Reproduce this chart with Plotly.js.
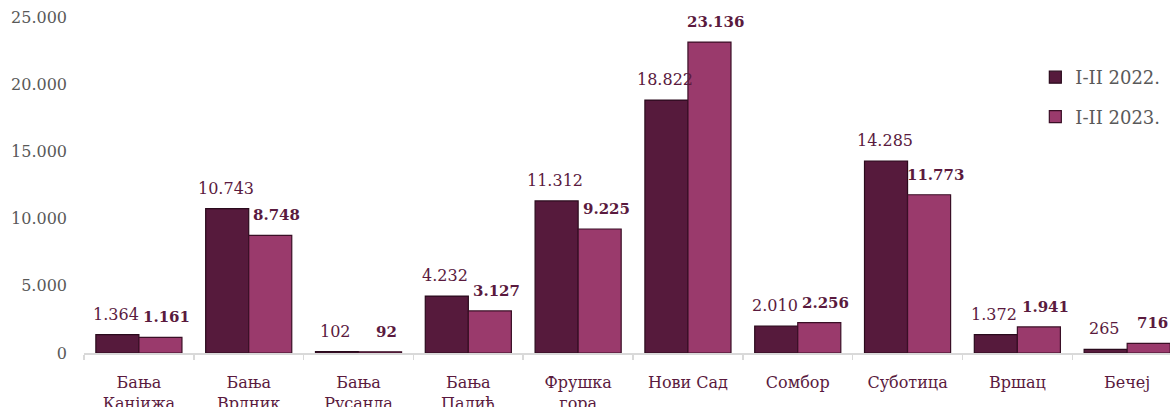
<!DOCTYPE html>
<html>
<head>
<meta charset="utf-8">
<script src="https://cdn.plot.ly/plotly-3.0.1.min.js"></script>
<style>html,body{margin:0;padding:0;background:#fff;}#chart{width:1170px;height:407px;}</style>
</head>
<body>
<div id="chart"></div>
<script>
const categories = ["Бања<br>Канјижа", "Бања<br>Врдник", "Бања<br>Русанда", "Бања<br>Палић", "Фрушка<br>гора", "Нови Сад", "Сомбор", "Суботица", "Вршац", "Бечеј"];
const seriesNames = ["I-II 2022.", "I-II 2023."];
const values2022 = [1364, 10743, 102, 4232, 11312, 18822, 2010, 14285, 1372, 265];
const values2023 = [1161, 8748, 92, 3127, 9225, 23136, 2256, 11773, 1941, 716];
const yTickVals = [0, 5000, 10000, 15000, 20000, 25000];

const fmt = v => String(v).replace(/\B(?=(\d{3})+(?!\d))/g, ".");
const FONT = "DejaVu Serif, Liberation Serif, serif";
const C22 = "#561a3c", C23 = "#9a3a6c", LABEL = "#5a1a3e";

const traces = [
  {type: "bar", name: seriesNames[0], x: categories, y: values2022, legendgroup: "a",
   marker: {color: C22, line: {color: "#2a0a1c", width: 1.2}}, hoverinfo: "y"},
  {type: "bar", name: seriesNames[1], x: categories, y: values2023, legendgroup: "b",
   marker: {color: C23, line: {color: "#3a0f26", width: 1.2}}, hoverinfo: "y"}
];

// plot geometry used only to keep the last label inside the page
const L = 84, W = 1086, RANGE = [-0.5, 9.39];
const catPx = i => L + (i - RANGE[0]) / (RANGE[1] - RANGE[0]) * W;

const annotations = [];
categories.forEach((c, i) => {
  const t23 = fmt(values2023[i]);
  const halfW = t23.length * 5.3;
  const shift23 = Math.min(28, 1168 - halfW - catPx(i));
  annotations.push({x: c, y: values2022[i], xref: "x", yref: "y", text: fmt(values2022[i]),
    showarrow: false, yanchor: "bottom", xanchor: "center", xshift: -23, yshift: 9,
    font: {family: FONT, size: 16, color: LABEL}});
  annotations.push({x: c, y: values2023[i], xref: "x", yref: "y", text: "<b>" + t23 + "</b>",
    showarrow: false, yanchor: "bottom", xanchor: "center", xshift: shift23, yshift: 9,
    font: {family: FONT, size: 15, color: LABEL}});
});

const layout = {
  width: 1170, height: 407,
  margin: {l: L, r: 0, t: 17, b: 54},
  paper_bgcolor: "#fff", plot_bgcolor: "#fff",
  separators: ",.",
  font: {family: FONT},
  barmode: "group", bargap: 0.216, bargroupgap: 0,
  showlegend: true,
  legend: {x: 0.876, y: 0.875, xanchor: "left", yanchor: "top",
    font: {family: FONT, size: 18, color: "#595959"},
    traceorder: "grouped", tracegroupgap: 13, bgcolor: "rgba(0,0,0,0)", itemwidth: 30},
  xaxis: {type: "category", range: RANGE, showgrid: false, zeroline: false,
    showline: true, linecolor: "#d9d9d9", linewidth: 1.5,
    ticks: "outside", tickson: "boundaries", ticklen: 5, tickcolor: "#d9d9d9", tickwidth: 1.5,
    ticklabelstandoff: 14,
    tickfont: {family: FONT, size: 16, color: LABEL}, fixedrange: true},
  yaxis: {range: [0, 25000], tickvals: yTickVals, tickformat: ",d", showgrid: false,
    zeroline: false, showline: false, ticks: "", ticklabelstandoff: 16,
    tickfont: {family: FONT, size: 16, color: "#595959"}, fixedrange: true},
  annotations: annotations
};

Plotly.newPlot("chart", traces, layout, {displayModeBar: false, staticPlot: true});
</script>
</body>
</html>
